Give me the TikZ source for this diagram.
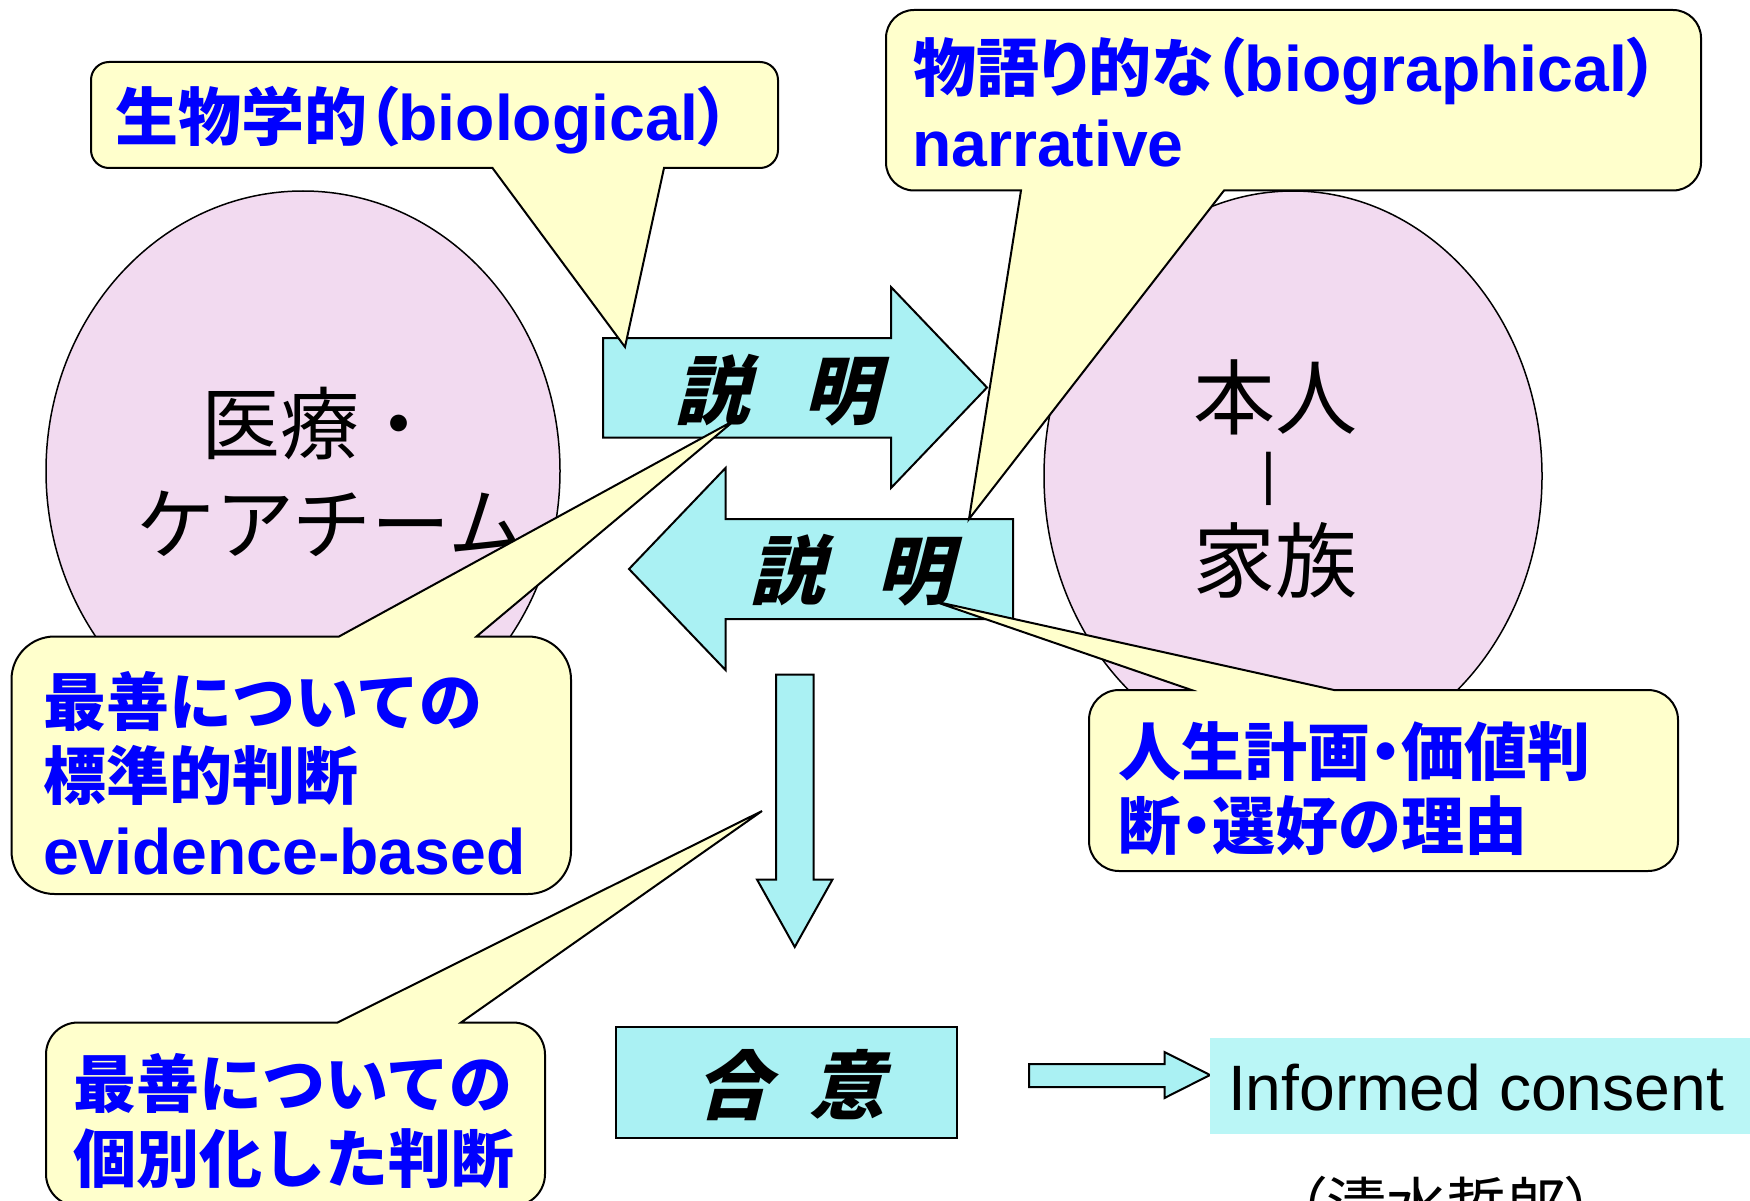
\documentclass[tikz,border=0pt]{standalone}
\usepackage{fontspec}
\setmainfont{Liberation Sans}
\newfontfamily\jp{Noto Sans CJK JP}
\newfontfamily\jb{Noto Sans CJK JP}[Scale=0.98]
\newfontfamily\jbp{Noto Sans CJK JP}[Scale=0.98,RawFeature=+palt]
\newfontfamily\jpp{Noto Sans CJK JP}[RawFeature=+palt]
\newfontfamily\jpsl{Noto Sans CJK JP}[FakeSlant=0.25]
\definecolor{pinkE}{HTML}{F2DAF0}
\definecolor{cyanA}{HTML}{AAF1F3}
\definecolor{cyanB}{HTML}{BAF6F6}
\definecolor{yellowC}{HTML}{FFFFCC}
\definecolor{blueT}{HTML}{0000FF}
\tikzset{
 ell/.style={draw=black,line width=1.5pt,fill=pinkE},
 blockarrow/.style={draw=black,line width=2pt,fill=cyanA,line join=miter},
 callout/.style={draw=black,line width=2pt,fill=yellowC,line join=miter},
 txt/.style={inner sep=0pt,outer sep=0pt,anchor=base west},
 bluetxt/.style={txt,text=blueT,font=\fontsize{64.3}{75}\selectfont\bfseries},
 bigtxt/.style={txt,font=\jp\fontsize{79}{90}\selectfont},
 slanttxt/.style={txt,font=\jpsl\bfseries\fontsize{75}{75}\selectfont},
}
% rounded-rectangle callout, wedge on the top edge: L T R B r base1 base2 tip
\newcommand\calloutTop[8]{%
 \path[callout] ({#1+#5},#2) -- (#6,#2) -- #8 -- (#7,#2) -- ({#3-#5},#2)
  arc[start angle=270,end angle=360,radius=#5] -- (#3,{#4-#5})
  arc[start angle=0,end angle=90,radius=#5] -- ({#1+#5},#4)
  arc[start angle=90,end angle=180,radius=#5] -- (#1,{#2+#5})
  arc[start angle=180,end angle=270,radius=#5] -- cycle;}
% wedge on the bottom edge: L T R B r base-left base-right tip
\newcommand\calloutBottom[8]{%
 \path[callout] ({#1+#5},#2) -- ({#3-#5},#2)
  arc[start angle=270,end angle=360,radius=#5] -- (#3,{#4-#5})
  arc[start angle=0,end angle=90,radius=#5] -- (#7,#4) -- #8 -- (#6,#4) -- ({#1+#5},#4)
  arc[start angle=90,end angle=180,radius=#5] -- (#1,{#2+#5})
  arc[start angle=180,end angle=270,radius=#5] -- cycle;}
\begin{document}
\begin{tikzpicture}[x=1pt,y=-1pt]
\useasboundingbox (0,0) rectangle (1750,1201);
\begin{scope}
\clip (0,0) rectangle (1750,1201);
% ellipses
\path[ell] (303,471) ellipse [x radius=257, y radius=280];
\path[ell] (1293,476) ellipse [x radius=249, y radius=285];
\node[bigtxt] (iryo) at (201,453) {医療・};
\node[bigtxt] (team) at (136,553) {ケアチーム};
\node[txt,font=\jp\fontsize{82}{82}\selectfont] (honnin) at (1193,428) {本人};
\node[txt,anchor=base,font=\fontsize{57}{57}\selectfont] (bar) at (1269,493) {|};
\node[txt,font=\jp\fontsize{82}{82}\selectfont] (kazoku) at (1193,591) {家族};
% block arrows
\path[blockarrow] (603,338) -- (891,338) -- (891,287) -- (987,387.5) -- (891,488) -- (891,437.5) -- (603,437.5) -- cycle;
\path[blockarrow] (1013,519) -- (725.5,519) -- (725.5,468) -- (629,569) -- (725.5,670) -- (725.5,619) -- (1013,619) -- cycle;
\path[blockarrow] (776,674.5) -- (813.5,674.5) -- (813.5,879.5) -- (832.5,879.5) -- (794.75,947) -- (757,879.5) -- (776,879.5) -- cycle;
\path[blockarrow] (1029,1064) -- (1164.5,1064) -- (1164.5,1052) -- (1210,1075) -- (1164.5,1098) -- (1164.5,1087) -- (1029,1087) -- cycle;
% boxes
\path[draw=black,line width=2pt,fill=cyanA] (616,1027) rectangle (957,1138);
\path[fill=cyanB] (1210,1038) rectangle (1750,1133.5);
% callouts
\calloutBottom{91}{62}{778}{168}{18}{492.5}{664}{(625,347)}
\calloutBottom{886}{10}{1701}{190.5}{28}{1021}{1224}{(969,519)}
\calloutTop{11.5}{636.5}{571}{894}{43}{339}{476.5}{(735,420)}
\calloutTop{46}{1022.5}{545}{1206}{32}{337.5}{461}{(762,811)}
\calloutTop{1089}{690}{1678}{871}{30}{1191.5}{1334}{(933,601)}
% arrow texts
\node[slanttxt] (setsu1) at (674,418) {説\hspace{55pt}明};
\node[slanttxt] (setsu2) at (749,598) {説\hspace{53pt}明};
\node[slanttxt] (goui) at (695,1113) {合\hspace{40pt}意};
% callout texts
\node[bluetxt] (bio) at (115,141) {{\jb 生物学的}{\jbp （}biological{\jbp ）}};
\node[bluetxt] (narr1) at (913,92) {{\jbp 物語り的な}{\jbp （}biographical{\jbp ）}};
\node[bluetxt] (narr2) at (912,166.5) {narrative};
\node[bluetxt] (best1) at (43,725) {{\jb 最善についての}};
\node[bluetxt] (best2) at (43,799.5) {{\jb 標準的判断}};
\node[bluetxt] (best3) at (43,874) {evidence-based};
\node[bluetxt] (ind1) at (73.5,1107) {{\jb 最善についての}};
\node[bluetxt] (ind2) at (73.5,1182) {{\jb 個別化した判断}};
\node[bluetxt] (life1) at (1118,775) {{\jb 人生計画}{\jbp ・}{\jb 価値判}};
\node[bluetxt] (life2) at (1118,849) {{\jb 断}{\jbp ・}{\jb 選好の理由}};
% informed consent
\node[txt,font=\fontsize{64.2}{64}\selectfont] (ic) at (1228,1110) {Informed consent};
\node[txt,font=\fontsize{60}{60}\selectfont] (author) at (1296,1227) {{\jpp （}{\jp 清水哲郎}{\jpp ）}};
\end{scope}
\end{tikzpicture}
\end{document}
